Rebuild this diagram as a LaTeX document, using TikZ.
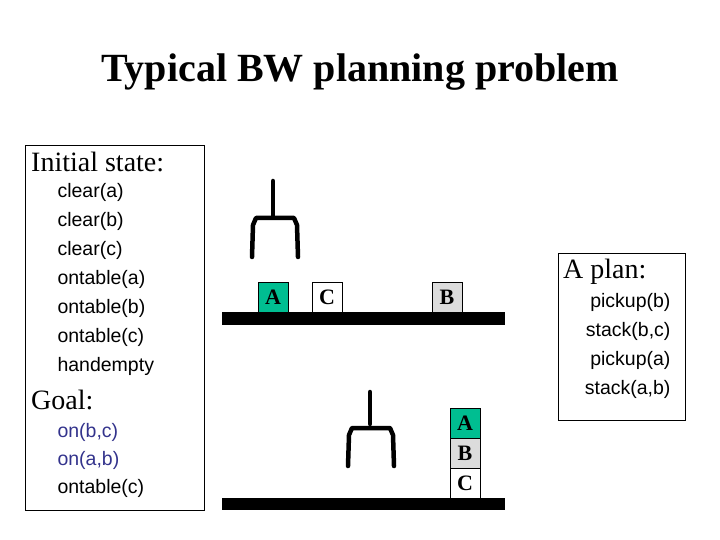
\documentclass[tikz,border=0pt]{standalone}
\usepackage{fontspec}
\setmainfont{Liberation Serif}
\newfontfamily\arialf{Liberation Sans}
\definecolor{blkgreen}{RGB}{0,190,145}
\definecolor{blkgray}{RGB}{220,220,220}
\definecolor{goalc}{RGB}{51,51,140}
\begin{document}
\begin{tikzpicture}[x=1pt,y=-1pt,
  blk/.style={draw=black,line width=0.6pt,minimum width=30pt,minimum height=30pt,inner sep=0pt,font=\fontsize{22}{22}\selectfont\bfseries},
  table/.style={fill=black},
  grip/.style={line width=4.5pt,line cap=round,line join=round},
  item/.style={anchor=west,font=\arialf\fontsize{19.5}{19.5}\selectfont},
  head/.style={anchor=west,font=\fontsize{28}{28}\selectfont}]
\useasboundingbox (0,0) rectangle (720,540);
\node[font=\fontsize{40}{40}\selectfont\bfseries] (title) at (360,72) {Typical BW planning problem};
% left box
\draw[line width=0.6pt] (25,145) rectangle (204,510);
\node[head,inner sep=2pt] (init) at (29,162) {Initial state:};
\foreach \t [count=\i] in {{clear(a)},{clear(b)},{clear(c)},{ontable(a)},{ontable(b)},{ontable(c)},{handempty}}
  \node[item] (i\i) at (54,192+29*\i-29) {\t};
\node[head,inner sep=2pt] (goal) at (29,400) {Goal:};
\node[item,text=goalc] (g1) at (54,432) {on(b,c)};
\node[item,text=goalc] (g2) at (54,460) {on(a,b)};
\node[item] (g3) at (54,488) {ontable(c)};
% plan box
\draw[line width=0.6pt] (558,253) rectangle (685,420);
\node[head,inner sep=2pt] (plan) at (561,272) {A plan:};
\foreach \t [count=\i] in {{pickup(b)},{stack(b,c)},{pickup(a)},{stack(a,b)}}
  \node[item,anchor=east] (p\i) at (674,302+29*\i-29) {\t};
% scene 1
\fill[table] (222,312) rectangle (505,325);
\node[blk,fill=blkgreen] (A1) at (273,297) {A};
\node[blk,fill=white] (C1) at (327,297) {C};
\node[blk,fill=blkgray] (B1) at (447,297) {B};
\draw[grip] (273,181) -- (273,216);
\draw[grip] (252,257) -- (253,225) -- (256,218) -- (294,218) -- (297,225) -- (298,257);
% scene 2
\fill[table] (222,498) rectangle (505,510);
\node[blk,fill=white] (C2) at (465,483) {C};
\node[blk,fill=blkgray] (B2) at (465,453) {B};
\node[blk,fill=blkgreen] (A2) at (465,423) {A};
\draw[grip] (370,392) -- (370,424);
\draw[grip] (348,466) -- (349,435) -- (352,428) -- (390,428) -- (393,435) -- (394,466);
\end{tikzpicture}
\end{document}
